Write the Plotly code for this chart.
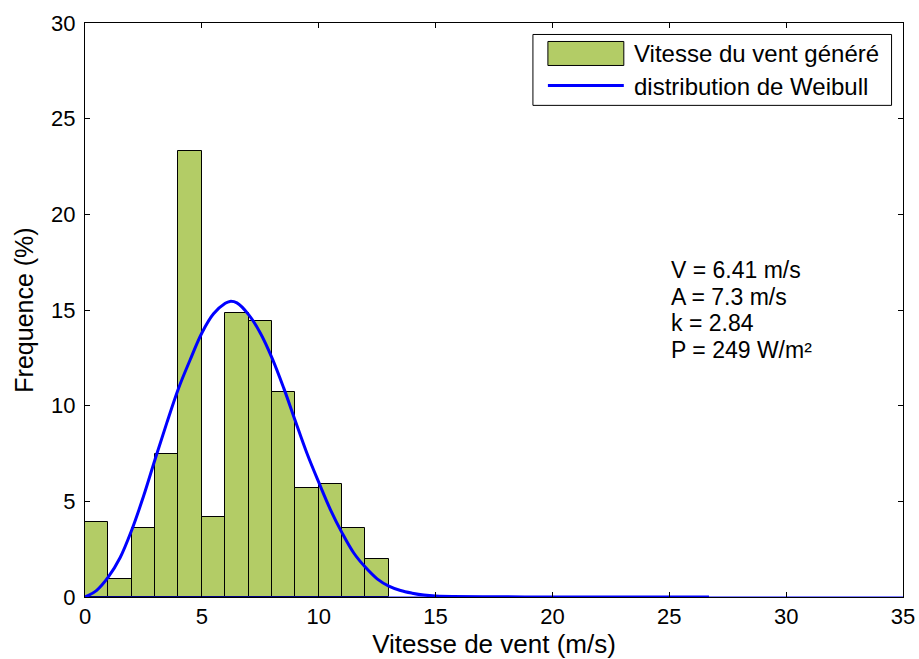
import plotly.graph_objects as go

# histogram of generated wind speed (bins of 1 m/s)
bin_centres = [0.5, 1.5, 2.5, 3.5, 4.5, 5.5, 6.5, 7.5, 8.5, 9.5, 10.5, 11.5, 12.5]
freq = [3.9, 0.95, 3.6, 7.5, 23.3, 4.2, 14.85, 14.4, 10.7, 5.7, 5.9, 3.6, 2.0]

# weibull curve
curve_x = [0, 0.5, 1, 1.5, 2, 2.5, 3, 3.5, 4, 4.5, 5, 5.5, 6, 6.2, 6.5, 7, 7.5, 8, 8.5,
           9, 9.5, 10, 10.5, 11, 11.5, 12, 12.5, 13, 13.5, 14, 14.5, 15, 20, 26.7]
curve_y = [0.0, 0.35, 1.05, 2.05, 3.5, 5.25, 7.2, 9.1, 10.9, 12.4, 13.8, 14.8, 15.35, 15.45, 15.37,
           14.76, 13.8, 12.5, 10.93, 9.2, 7.5, 6.0, 4.57, 3.35, 2.3, 1.55, 0.95, 0.57,
           0.34, 0.2, 0.1, 0.05, 0.0, 0.0]

tail_x = [0, 35]
tail_y = [0, 0]

stats = ['V = 6.41 m/s', 'A = 7.3 m/s', 'k = 2.84', 'P = 249 W/m²']
legend_labels = ['Vitesse du vent généré', 'distribution de Weibull']

FONT = 'Liberation Sans, Arial, sans-serif'
BAR_COLOR = '#b3cc66'
LINE_COLOR = '#0000ff'

fig = go.Figure()
fig.add_trace(go.Bar(x=bin_centres, y=freq, width=1,
                     marker=dict(color=BAR_COLOR, line=dict(color='black', width=1)),
                     name=legend_labels[0], showlegend=False))
fig.add_trace(go.Scatter(x=tail_x, y=tail_y, mode='lines',
                         line=dict(color=LINE_COLOR, width=1), showlegend=False, hoverinfo='skip'))
fig.add_trace(go.Scatter(x=curve_x, y=curve_y, mode='lines', line_shape='spline',
                         line=dict(color=LINE_COLOR, width=3),
                         name=legend_labels[1], showlegend=False))

# text block, one annotation per line to get matlab's tighter line spacing
for i, s in enumerate(stats):
    fig.add_annotation(x=25, y=17.08 - i * 1.39, xref='x', yref='y', xanchor='left', yanchor='middle',
                       text=s, showarrow=False, font=dict(family=FONT, size=23, color='black'))

# matlab style legend box (drawn by hand so the swatches are the right size)
fig.add_shape(type='rect', xref='paper', yref='paper', x0=0.5476, x1=0.986, y0=0.8565, y1=0.98,
              line=dict(color='black', width=1), fillcolor='white', layer='above')
fig.add_shape(type='rect', xref='paper', yref='paper', x0=0.5659, x1=0.6587, y0=0.926, y1=0.9678,
              line=dict(color='black', width=1), fillcolor=BAR_COLOR, layer='above')
fig.add_shape(type='line', xref='paper', yref='paper', x0=0.5659, x1=0.6587, y0=0.8913, y1=0.8913,
              line=dict(color=LINE_COLOR, width=3), layer='above')
fig.add_annotation(x=0.6685, y=0.947, xref='paper', yref='paper', xanchor='left', yanchor='middle',
                   text=legend_labels[0], showarrow=False, font=dict(size=24))
fig.add_annotation(x=0.6685, y=0.8895, xref='paper', yref='paper', xanchor='left', yanchor='middle',
                   text=legend_labels[1], showarrow=False, font=dict(size=24))

fig.update_layout(width=919, height=659,
                  margin=dict(l=84.5, r=15.5, t=22.5, b=61.5),
                  plot_bgcolor='white', paper_bgcolor='white',
                  font=dict(family=FONT, size=22, color='black'),
                  bargap=0, showlegend=False)
fig.update_xaxes(range=[0, 35], tickvals=[0, 5, 10, 15, 20, 25, 30, 35],
                 showgrid=False, zeroline=False, showline=True, linecolor='black', linewidth=1,
                 mirror='ticks', ticks='inside', ticklen=5, tickcolor='black', automargin=False,
                 title=dict(text='Vitesse de vent (m/s)', font=dict(size=26), standoff=13))
fig.update_yaxes(range=[0, 30], tickvals=[0, 5, 10, 15, 20, 25, 30],
                 showgrid=False, zeroline=False, showline=True, linecolor='black', linewidth=1,
                 mirror='ticks', ticks='inside', ticklen=5, tickcolor='black', automargin=False,
                 ticklabelstandoff=4,
                 title=dict(text='Frequence (%)', font=dict(size=25), standoff=10))

# drop the default 8px body margin so the 919x659 figure fills the window
fig.write_html("out.html", config={'displayModeBar': False},
               post_script="document.body.style.margin='0';document.body.style.overflow='hidden';")
